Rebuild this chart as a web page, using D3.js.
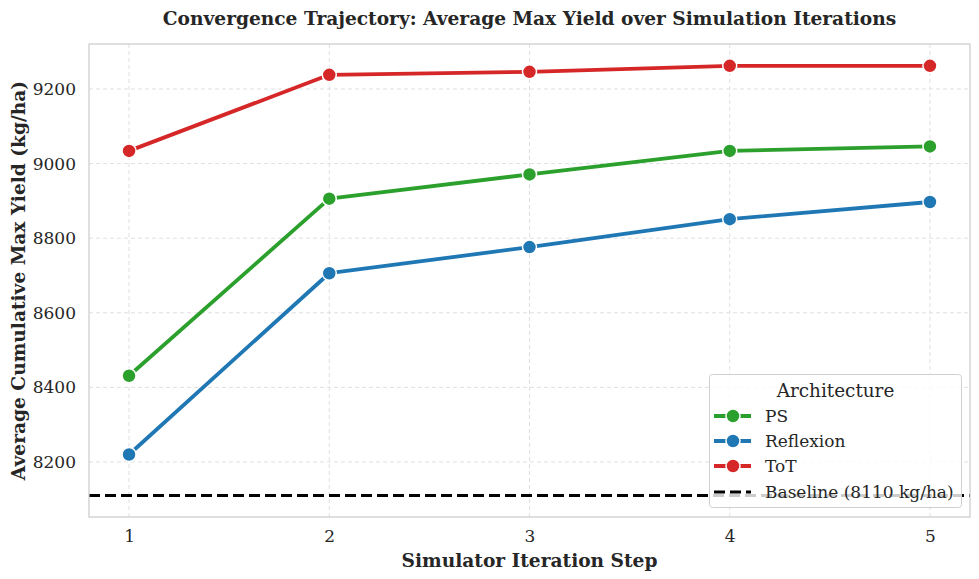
<!DOCTYPE html>
<html><head><meta charset="utf-8">
<script src="https://cdn.jsdelivr.net/npm/d3@7/dist/d3.min.js"></script>
<style>body{margin:0;background:#fff;} svg{display:block;font-family:"DejaVu Serif",serif;}</style>
</head><body>
<svg id="c" width="979" height="579"></svg>
<script>
const steps = [1, 2, 3, 4, 5];
const seriesNames = ["PS", "Reflexion", "ToT"];
const seriesColors = ["#2ca02c", "#1f77b4", "#d62728"];
const psValues = [8431, 8906, 8971, 9034, 9046];
const reflexionValues = [8220, 8706, 8776, 8851, 8897];
const totValues = [9034, 9238, 9246, 9262, 9262];
const baselineValue = 8110;
const yTicks = [8200, 8400, 8600, 8800, 9000, 9200];
const legendTitle = "Architecture";
const baselineLabel = "Baseline (8110 kg/ha)";
const titleText = "Convergence Trajectory: Average Max Yield over Simulation Iterations";
const xLabel = "Simulator Iteration Step";
const yLabel = "Average Cumulative Max Yield (kg/ha)";

const seriesValues = [psValues, reflexionValues, totValues];
const svg = d3.select("#c");
const L = 89, R = 970, T = 44, B = 517;
const x = d3.scaleLinear().domain([0.8, 5.2]).range([L, R]);
const y = d3.scaleLinear().domain([8052.4, 9320.6]).range([B, T]);

// grid
const g = svg.append("g");
g.selectAll(".gx").data(steps).enter().append("line")
  .attr("x1", d => x(d)).attr("x2", d => x(d)).attr("y1", T).attr("y2", B)
  .attr("stroke", "#dcdcdc").attr("stroke-width", 0.9).attr("stroke-dasharray", "4,3");
g.selectAll(".gy").data(yTicks).enter().append("line")
  .attr("x1", L).attr("x2", R).attr("y1", d => y(d)).attr("y2", d => y(d))
  .attr("stroke", "#dcdcdc").attr("stroke-width", 0.9).attr("stroke-dasharray", "4,3");

// axes
const xAxis = d3.axisBottom(x).tickValues(steps).tickSize(0).tickPadding(13).tickFormat(d3.format("d"));
const yAxis = d3.axisLeft(y).tickValues(yTicks).tickSize(0).tickPadding(13).tickFormat(d3.format("d"));
const xa = svg.append("g").attr("transform", `translate(0,${B})`).call(xAxis);
const ya = svg.append("g").attr("transform", `translate(${L},0)`).call(yAxis);
[xa, ya].forEach(a => {
  a.select(".domain").remove();
  a.selectAll("text").attr("font-family", "DejaVu Serif").attr("font-size", 17).attr("fill", "#262626");
});

// baseline
svg.append("line").attr("x1", L).attr("x2", R).attr("y1", y(baselineValue)).attr("y2", y(baselineValue))
  .attr("stroke", "#000").attr("stroke-width", 3).attr("stroke-dasharray", "11,5");

// lines
const line = d3.line().x((d, i) => x(steps[i])).y(d => y(d));
seriesValues.forEach((vals, si) => {
  svg.append("path").datum(vals).attr("d", line).attr("fill", "none")
    .attr("stroke", seriesColors[si]).attr("stroke-width", 3.8).attr("stroke-linejoin", "round");
  svg.selectAll(null).data(vals).enter().append("circle")
    .attr("cx", (d, i) => x(steps[i])).attr("cy", d => y(d)).attr("r", 7)
    .attr("fill", seriesColors[si]).attr("stroke", "#fff").attr("stroke-width", 1.5);
});

// spines
svg.append("rect").attr("x", L).attr("y", T).attr("width", R - L).attr("height", B - T)
  .attr("fill", "none").attr("stroke", "#cccccc").attr("stroke-width", 1.25);

// title & labels
svg.append("text").attr("x", (L + R) / 2).attr("y", 24.5).attr("text-anchor", "middle")
  .attr("font-size", 18.6).attr("font-weight", "bold").attr("fill", "#262626").text(titleText);
svg.append("text").attr("x", (L + R) / 2).attr("y", 566.5).attr("text-anchor", "middle")
  .attr("font-size", 18.6).attr("font-weight", "bold").attr("fill", "#262626").text(xLabel);
svg.append("text").attr("transform", `translate(25,${(T + B) / 2}) rotate(-90)`).attr("text-anchor", "middle")
  .attr("font-size", 18.6).attr("font-weight", "bold").attr("fill", "#262626").text(yLabel);

// legend
const lg = svg.append("g");
lg.append("rect").attr("x", 709.5).attr("y", 374.5).attr("width", 252).attr("height", 133).attr("rx", 3)
  .attr("fill", "#fff").attr("fill-opacity", 0.8).attr("stroke", "#d0d0d0").attr("stroke-width", 1);
lg.append("text").attr("x", 835.5).attr("y", 396.5).attr("text-anchor", "middle")
  .attr("font-size", 18.4).attr("fill", "#262626").text(legendTitle);
const rowsY = [416, 441, 466];
seriesNames.forEach((n, i) => {
  lg.append("line").attr("x1", 714).attr("x2", 751).attr("y1", rowsY[i]).attr("y2", rowsY[i])
    .attr("stroke", seriesColors[i]).attr("stroke-width", 3.8);
  lg.append("circle").attr("cx", 733).attr("cy", rowsY[i]).attr("r", 7)
    .attr("fill", seriesColors[i]).attr("stroke", "#fff").attr("stroke-width", 1.5);
  lg.append("text").attr("x", 765).attr("y", rowsY[i] + 6).attr("font-size", 17).attr("fill", "#262626").text(n);
});
lg.append("line").attr("x1", 714).attr("x2", 751).attr("y1", 492).attr("y2", 492)
  .attr("stroke", "#000").attr("stroke-width", 3).attr("stroke-dasharray", "11,5");
lg.append("text").attr("x", 765).attr("y", 498).attr("font-size", 17).attr("fill", "#262626").text(baselineLabel);
</script>
</body></html>
